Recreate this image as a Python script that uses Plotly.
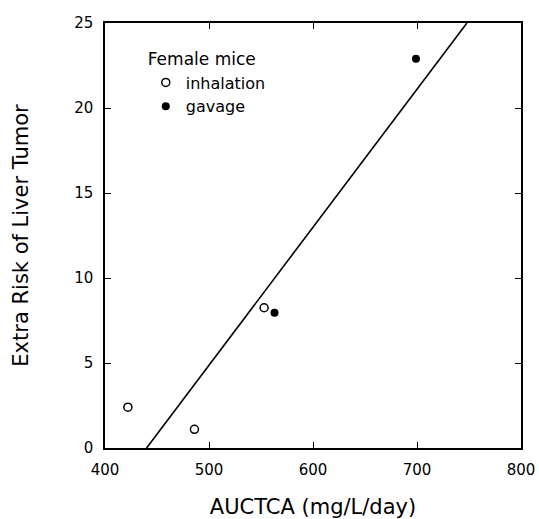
import plotly.graph_objects as go

# Data
inh_x = [422, 486, 553]
inh_y = [2.4, 1.1, 8.25]
gav_x = [563, 699]
gav_y = [7.95, 22.9]
fit_x = [440, 748]
fit_y = [0, 25]

x_ticks = [400, 500, 600, 700, 800]
y_ticks = [0, 5, 10, 15, 20, 25]

FONT = "DejaVu Sans"

fig = go.Figure()
fig.add_trace(go.Scatter(x=fit_x, y=fit_y, mode="lines",
                         line=dict(color="black", width=1.6), showlegend=False))
fig.add_trace(go.Scatter(x=inh_x, y=inh_y, mode="markers", name="inhalation",
                         marker=dict(symbol="circle-open", size=8, color="black",
                                     line=dict(width=1.5, color="black"))))
fig.add_trace(go.Scatter(x=gav_x, y=gav_y, mode="markers", name="gavage",
                         marker=dict(symbol="circle", size=8, color="black")))

axis_common = dict(showline=True, linecolor="black", linewidth=1.5, mirror="allticks",
                   ticks="inside", ticklen=6, tickwidth=1.2, tickcolor="black",
                   showgrid=False, zeroline=False, ticklabelstandoff=7, automargin=False,
                   tickfont=dict(family=FONT, size=15, color="black"))

fig.update_xaxes(range=[400, 800], tickvals=x_ticks, **axis_common,
                 title=dict(text="AUCTCA (mg/L/day)", standoff=25,
                            font=dict(family=FONT, size=21, color="black")))
fig.update_yaxes(range=[0, 25], tickvals=y_ticks, **axis_common,
                 title=dict(text="Extra Risk of Liver Tumor", standoff=40,
                            font=dict(family=FONT, size=21, color="black")))

fig.update_layout(
    width=539, height=519,
    margin=dict(l=105, r=18, t=23, b=71),
    plot_bgcolor="white", paper_bgcolor="white",
    legend=dict(x=0.098, y=0.952, xanchor="left", yanchor="top",
                bgcolor="rgba(0,0,0,0)",
                title=dict(text="Female mice", font=dict(family=FONT, size=17, color="black")),
                font=dict(family=FONT, size=16, color="black"),
                itemwidth=30, tracegroupgap=0),
)

fig.write_html(
    "out.html",
    config={"displayModeBar": False},
    post_script=("document.body.style.margin='0';"
                 "document.body.style.overflow='hidden';"
                 "document.documentElement.style.overflow='hidden';"),
)
